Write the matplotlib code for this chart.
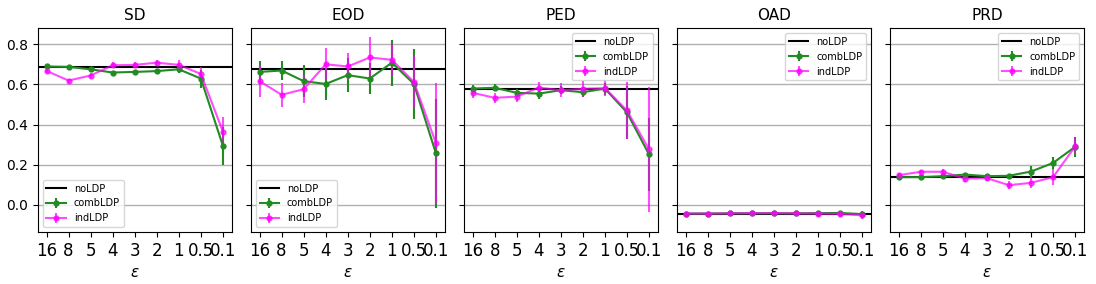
import matplotlib.pyplot as plt

eps_labels = ['16', '8', '5', '4', '3', '2', '1', '0.5', '0.1']
metrics = ['SD', 'EOD', 'PED', 'OAD', 'PRD']

noldp = [0.686, 0.676, 0.579, -0.043, 0.138]

comb_mean = [
    [0.689, 0.687, 0.675, 0.659, 0.662, 0.666, 0.675, 0.629, 0.294],
    [0.662, 0.669, 0.616, 0.602, 0.646, 0.629, 0.708, 0.602, 0.256],
    [0.579, 0.583, 0.558, 0.554, 0.571, 0.561, 0.579, 0.460, 0.251],
    [-0.043, -0.043, -0.042, -0.042, -0.042, -0.042, -0.041, -0.040, -0.046],
    [0.138, 0.138, 0.143, 0.151, 0.143, 0.145, 0.166, 0.209, 0.289],
]
comb_err = [
    [0.008, 0.008, 0.010, 0.008, 0.010, 0.010, 0.020, 0.045, 0.095],
    [0.055, 0.045, 0.080, 0.080, 0.085, 0.075, 0.115, 0.175, 0.270],
    [0.020, 0.018, 0.020, 0.025, 0.020, 0.025, 0.030, 0.130, 0.180],
    [0.003, 0.003, 0.003, 0.003, 0.003, 0.003, 0.004, 0.006, 0.012],
    [0.008, 0.008, 0.008, 0.010, 0.008, 0.010, 0.030, 0.030, 0.050],
]
ind_mean = [
    [0.667, 0.619, 0.644, 0.695, 0.697, 0.708, 0.697, 0.652, 0.365],
    [0.616, 0.548, 0.576, 0.700, 0.689, 0.734, 0.722, 0.612, 0.307],
    [0.558, 0.533, 0.539, 0.584, 0.571, 0.578, 0.581, 0.470, 0.276],
    [-0.043, -0.043, -0.042, -0.041, -0.041, -0.042, -0.043, -0.045, -0.052],
    [0.148, 0.165, 0.165, 0.131, 0.133, 0.098, 0.110, 0.138, 0.291],
]
ind_err = [
    [0.012, 0.010, 0.012, 0.015, 0.012, 0.012, 0.025, 0.035, 0.075],
    [0.080, 0.060, 0.070, 0.080, 0.065, 0.100, 0.080, 0.130, 0.300],
    [0.025, 0.025, 0.025, 0.030, 0.035, 0.040, 0.040, 0.140, 0.310],
    [0.004, 0.004, 0.004, 0.004, 0.004, 0.004, 0.005, 0.008, 0.020],
    [0.010, 0.010, 0.012, 0.018, 0.012, 0.020, 0.025, 0.040, 0.040],
]
legend_locs = ['lower left', 'lower left', 'upper right', 'upper right', 'upper right']

fig, axes = plt.subplots(1, 5, figsize=(10.96, 2.84), dpi=100, sharey=True)
plt.subplots_adjust(left=0.0344, right=0.989, top=0.901, bottom=0.183, wspace=0.098)

x = range(len(eps_labels))
for i, ax in enumerate(axes):
    ax.grid(axis='y', color='#b0b0b0', linewidth=1)
    ax.set_axisbelow(True)
    ax.axhline(noldp[i], color='black', linewidth=1.5, label='noLDP')
    ax.errorbar(x, comb_mean[i], yerr=comb_err[i], color='forestgreen', marker='o',
                markersize=3.5, linewidth=1.5, label='combLDP')
    ax.errorbar(x, ind_mean[i], yerr=ind_err[i], color='magenta', marker='o',
                markersize=3.5, linewidth=1.5, alpha=0.7, label='indLDP')
    ax.set_title(metrics[i], fontsize=11)
    ax.set_xticks(list(x))
    ax.set_xticklabels(eps_labels, fontsize=12)
    ax.tick_params(axis='y', labelsize=10)
    ax.set_xlabel(r'$\epsilon$', fontsize=11)
    ax.legend(loc=legend_locs[i], fontsize=7)

axes[0].set_ylim(-0.135, 0.88)
axes[0].set_yticks([0.0, 0.2, 0.4, 0.6, 0.8])

plt.savefig('out.png', dpi=100)
